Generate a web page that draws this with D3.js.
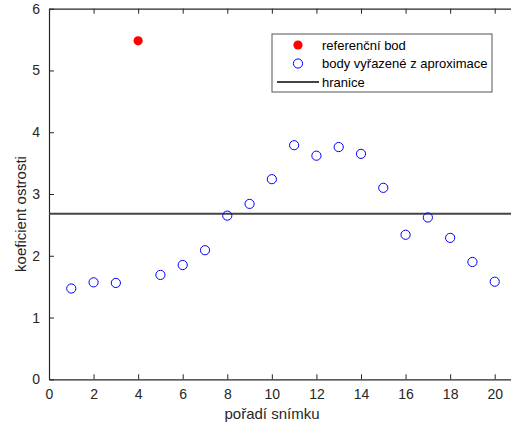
<!DOCTYPE html>
<html>
<head>
<meta charset="utf-8">
<script src="https://cdn.jsdelivr.net/npm/d3@7"></script>
<style>
  body { margin: 0; background: #fff; }
  svg { display: block; font-family: "Liberation Sans", Arial, sans-serif; }
</style>
</head>
<body>
<svg id="chart" width="511" height="428"></svg>
<script>
// excluded points (blue open circles)
var frames = [1, 2, 3, 5, 6, 7, 8, 9, 10, 11, 12, 13, 14, 15, 16, 17, 18, 19, 20]
var sharpness = [1.47, 1.57, 1.56, 1.69, 1.85, 2.09, 2.65, 2.84, 3.24, 3.79, 3.62, 3.76, 3.65, 3.10, 2.34, 2.62, 2.29, 1.90, 1.58]
// reference point
var refFrame = [4]
var refSharpness = [5.48]
var boundary = 2.68
var xTicks = [0, 2, 4, 6, 8, 10, 12, 14, 16, 18, 20]
var yTicks = [0, 1, 2, 3, 4, 5, 6]
var legendLabels = ["referenční bod", "body vyřazené z aproximace", "hranice"]

var axisColor = "#262626"
var margin = { left: 49, top: 8.7 }
var width = 468
var height = 370.6

var svg = d3.select("#chart")
var g = svg.append("g")
  .attr("transform", "translate(" + margin.left + "," + margin.top + ")")

var x = d3.scaleLinear().domain([0, 21]).range([0, width])
var y = d3.scaleLinear().domain([0, 6]).range([height, 0])

function styleAxis(sel) {
  sel.select(".domain").attr("stroke", axisColor).attr("stroke-width", 1.2)
  sel.selectAll(".tick line").attr("stroke", axisColor).attr("stroke-width", 1)
  sel.selectAll(".tick text").attr("fill", axisColor).attr("font-size", "14px")
    .attr("font-family", "Liberation Sans, Arial, sans-serif")
}

// bottom axis, ticks pointing inward
g.append("g")
  .attr("transform", "translate(0," + height + ")")
  .call(d3.axisBottom(x).tickValues(xTicks).tickSize(-5).tickPadding(10).tickSizeOuter(0))
  .call(styleAxis)

g.append("g")
  .call(d3.axisTop(x).tickValues(xTicks).tickSize(-5).tickFormat("").tickSizeOuter(0))
  .call(styleAxis)

g.append("g")
  .call(d3.axisLeft(y).tickValues(yTicks).tickFormat(d3.format("d")).tickSize(-5).tickPadding(9).tickSizeOuter(0))
  .call(styleAxis)

// boundary line
g.append("line")
  .attr("x1", 0)
  .attr("x2", width)
  .attr("y1", y(boundary))
  .attr("y2", y(boundary))
  .attr("stroke", "#444")
  .attr("stroke-width", 2)

g.selectAll("circle.excl")
  .data(frames)
  .enter()
  .append("circle")
  .attr("class", "excl")
  .attr("cx", function(d) { return x(d) })
  .attr("cy", function(d, i) { return y(sharpness[i]) })
  .attr("r", 4.6)
  .attr("fill", "none")
  .attr("stroke", "#0000ff")
  .attr("stroke-width", 1)

g.selectAll("circle.ref")
  .data(refFrame)
  .enter()
  .append("circle")
  .attr("class", "ref")
  .attr("cx", function(d) { return x(d) })
  .attr("cy", function(d, i) { return y(refSharpness[i]) })
  .attr("r", 4.6)
  .attr("fill", "#ff0000")

// axis labels
svg.append("text")
  .attr("x", 272)
  .attr("y", 419)
  .attr("text-anchor", "middle")
  .attr("font-size", "15px")
  .attr("fill", axisColor)
  .text("pořadí snímku")

svg.append("text")
  .attr("transform", "translate(26,214) rotate(-90)")
  .attr("text-anchor", "middle")
  .attr("font-size", "15px")
  .attr("fill", axisColor)
  .text("koeficient ostrosti")

// legend
var legend = svg.append("g").attr("transform", "translate(272,34)")
legend.append("rect")
  .attr("width", 220)
  .attr("height", 58)
  .attr("fill", "#fff")
  .attr("stroke", "#555")
  .attr("stroke-width", 1)

var rowY = [11, 29.5, 48]
legend.append("circle")
  .attr("cx", 26).attr("cy", rowY[0]).attr("r", 4.6).attr("fill", "#ff0000")
legend.append("circle")
  .attr("cx", 26).attr("cy", rowY[1]).attr("r", 4.6)
  .attr("fill", "none").attr("stroke", "#0000ff").attr("stroke-width", 1)
legend.append("line")
  .attr("x1", 5).attr("x2", 47).attr("y1", rowY[2]).attr("y2", rowY[2])
  .attr("stroke", "#444").attr("stroke-width", 2)

legend.selectAll("text")
  .data(legendLabels)
  .enter()
  .append("text")
  .attr("x", 50)
  .attr("y", function(d, i) { return rowY[i] })
  .attr("dy", "0.35em")
  .attr("font-size", "13px")
  .attr("fill", "#000")
  .text(function(d) { return d })
</script>
</body>
</html>
